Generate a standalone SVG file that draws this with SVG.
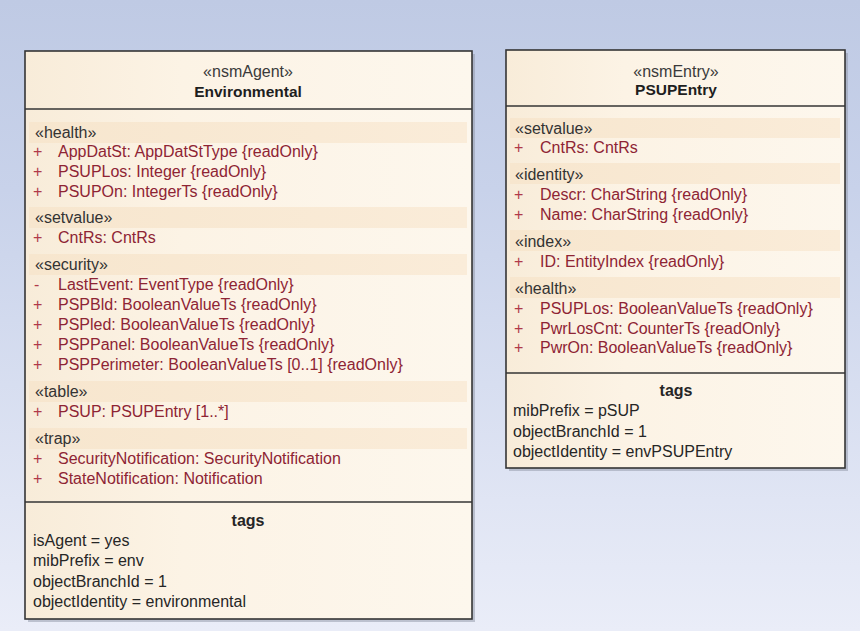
<svg xmlns="http://www.w3.org/2000/svg" width="860" height="631" viewBox="0 0 860 631">
  <defs>
    <linearGradient id="bg" x1="0" y1="0" x2="0" y2="1">
      <stop offset="0" stop-color="#bfcae4"/>
      <stop offset="0.3" stop-color="#c8d2ea"/>
      <stop offset="1" stop-color="#eaedf8"/>
    </linearGradient>
    <linearGradient id="boxFill" x1="0" y1="0" x2="1" y2="0">
      <stop offset="0" stop-color="#f8ecd9"/>
      <stop offset="0.35" stop-color="#fcf3e5"/>
      <stop offset="1" stop-color="#fdf7ed"/>
    </linearGradient>
    <linearGradient id="band" x1="0" y1="0" x2="1" y2="0">
      <stop offset="0" stop-color="#f7e6ce"/>
      <stop offset="1" stop-color="#faecd9"/>
    </linearGradient>
  </defs>
  <style>
    .frame { fill: url(#boxFill); stroke: #353535; stroke-width: 1.6; }
    .shadow { fill: #8f96a6; opacity: 0.5; }
    .sep { stroke: #353535; stroke-width: 1.6; }
    .band { fill: url(#band); }
    text { font-family: "Liberation Sans", Arial, sans-serif; font-size: 16px; }
    .st { fill: #333333; }
    .title { fill: #1e1e1e; font-weight: bold; font-size: 15.5px; text-anchor: middle; }
    .hst { fill: #3a3a3a; font-size: 16px; text-anchor: middle; }
    .attr { fill: #8e2434; }
    .vis { fill: #b03a4a; }
    .tag { fill: #262626; }
    .tagh { fill: #262626; font-weight: bold; text-anchor: middle; }
  </style>

  <rect x="0" y="0" width="860" height="631" fill="url(#bg)"/>

  <!-- Environmental agent class -->
  <g id="environmental">
    <rect class="shadow" x="28" y="54" width="447" height="568"/>
    <rect class="frame" x="25" y="51" width="447" height="568"/>
    <text class="hst" x="248" y="77">«nsmAgent»</text>
    <text class="title" x="248" y="97">Environmental</text>
    <line class="sep" x1="25" y1="109" x2="472" y2="109"/>

    <rect class="band" x="29" y="122" width="438" height="21"/>
    <text class="st" x="35" y="138">«health»</text>
    <text class="vis" x="33" y="157">+</text><text class="attr" x="58" y="157">AppDatSt: AppDatStType {readOnly}</text>
    <text class="vis" x="33" y="177">+</text><text class="attr" x="58" y="177">PSUPLos: Integer {readOnly}</text>
    <text class="vis" x="33" y="197">+</text><text class="attr" x="58" y="197">PSUPOn: IntegerTs {readOnly}</text>

    <rect class="band" x="29" y="207" width="438" height="21"/>
    <text class="st" x="35" y="223">«setvalue»</text>
    <text class="vis" x="33" y="243">+</text><text class="attr" x="58" y="243">CntRs: CntRs</text>

    <rect class="band" x="29" y="254" width="438" height="21"/>
    <text class="st" x="35" y="270">«security»</text>
    <text class="vis" x="34" y="290">-</text><text class="attr" x="58" y="290">LastEvent: EventType {readOnly}</text>
    <text class="vis" x="33" y="310">+</text><text class="attr" x="58" y="310">PSPBld: BooleanValueTs {readOnly}</text>
    <text class="vis" x="33" y="330">+</text><text class="attr" x="58" y="330">PSPled: BooleanValueTs {readOnly}</text>
    <text class="vis" x="33" y="350">+</text><text class="attr" x="58" y="350">PSPPanel: BooleanValueTs {readOnly}</text>
    <text class="vis" x="33" y="370">+</text><text class="attr" x="58" y="370">PSPPerimeter: BooleanValueTs [0..1] {readOnly}</text>

    <rect class="band" x="29" y="381" width="438" height="21"/>
    <text class="st" x="35" y="397">«table»</text>
    <text class="vis" x="33" y="417">+</text><text class="attr" x="58" y="417">PSUP: PSUPEntry [1..*]</text>

    <rect class="band" x="29" y="428" width="438" height="21"/>
    <text class="st" x="35" y="444">«trap»</text>
    <text class="vis" x="33" y="464">+</text><text class="attr" x="58" y="464">SecurityNotification: SecurityNotification</text>
    <text class="vis" x="33" y="484">+</text><text class="attr" x="58" y="484">StateNotification: Notification</text>

    <line class="sep" x1="25" y1="502" x2="472" y2="502"/>
    <text class="tagh" x="248" y="526">tags</text>
    <text class="tag" x="33" y="546">isAgent = yes</text>
    <text class="tag" x="33" y="566">mibPrefix = env</text>
    <text class="tag" x="33" y="587">objectBranchId = 1</text>
    <text class="tag" x="33" y="607">objectIdentity = environmental</text>
  </g>

  <!-- PSUPEntry table entry class -->
  <g id="psupentry">
    <rect class="shadow" x="509" y="53" width="339" height="418"/>
    <rect class="frame" x="506" y="50" width="339" height="418"/>
    <text class="hst" x="676" y="77">«nsmEntry»</text>
    <text class="title" x="676" y="95">PSUPEntry</text>
    <line class="sep" x1="506" y1="106" x2="845" y2="106"/>

    <rect class="band" x="510" y="118" width="330" height="20"/>
    <text class="st" x="515" y="134">«setvalue»</text>
    <text class="vis" x="514" y="153">+</text><text class="attr" x="540" y="153">CntRs: CntRs</text>

    <rect class="band" x="510" y="163" width="330" height="21"/>
    <text class="st" x="515" y="180">«identity»</text>
    <text class="vis" x="514" y="200">+</text><text class="attr" x="540" y="200">Descr: CharString {readOnly}</text>
    <text class="vis" x="514" y="220">+</text><text class="attr" x="540" y="220">Name: CharString {readOnly}</text>

    <rect class="band" x="510" y="230" width="330" height="21"/>
    <text class="st" x="515" y="247">«index»</text>
    <text class="vis" x="514" y="267">+</text><text class="attr" x="540" y="267">ID: EntityIndex {readOnly}</text>

    <rect class="band" x="510" y="277" width="330" height="21"/>
    <text class="st" x="515" y="294">«health»</text>
    <text class="vis" x="514" y="314">+</text><text class="attr" x="540" y="314">PSUPLos: BooleanValueTs {readOnly}</text>
    <text class="vis" x="514" y="334">+</text><text class="attr" x="540" y="334">PwrLosCnt: CounterTs {readOnly}</text>
    <text class="vis" x="514" y="353">+</text><text class="attr" x="540" y="353">PwrOn: BooleanValueTs {readOnly}</text>

    <line class="sep" x1="506" y1="373" x2="845" y2="373"/>
    <text class="tagh" x="676" y="396">tags</text>
    <text class="tag" x="513" y="416">mibPrefix = pSUP</text>
    <text class="tag" x="513" y="437">objectBranchId = 1</text>
    <text class="tag" x="513" y="457">objectIdentity = envPSUPEntry</text>
  </g>

  <!-- no connectors between the two classes -->
  <g id="connectors"/>
</svg>
